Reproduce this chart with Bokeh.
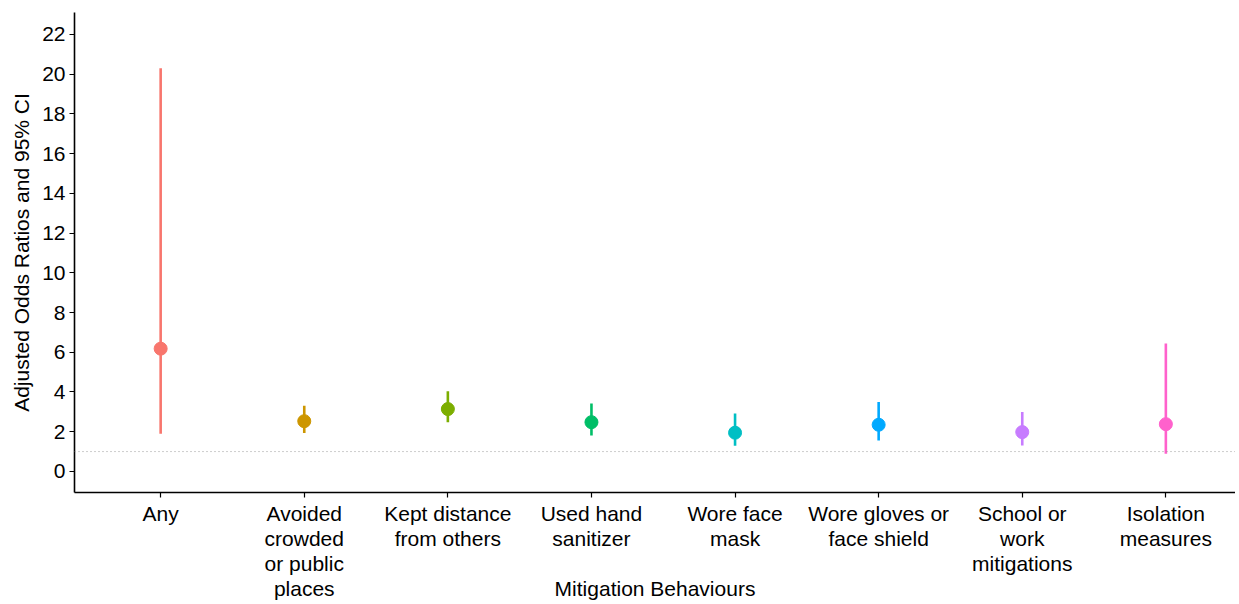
from bokeh.plotting import figure
from bokeh.models import Range1d, FixedTicker, Span, ColumnDataSource
from bokeh.embed import file_html
from bokeh.resources import INLINE

categories = ["Any", "Avoided\ncrowded\nor public\nplaces", "Kept distance\nfrom others",
              "Used hand\nsanitizer", "Wore face\nmask", "Wore gloves or\nface shield",
              "School or\nwork\nmitigations", "Isolation\nmeasures"]
aor = [6.18, 2.53, 3.14, 2.48, 1.95, 2.35, 1.98, 2.38]
ci_low = [1.90, 1.93, 2.47, 1.81, 1.29, 1.56, 1.31, 0.89]
ci_high = [20.29, 3.31, 4.03, 3.42, 2.92, 3.49, 2.99, 6.44]
colors = ["#F8766D", "#CD9600", "#7CAE00", "#00BE67", "#00BFC4", "#00A9FF", "#C77CFF", "#FF61CC"]
y_ticks = list(range(0, 23, 2))
ref_value = 1

xpos = list(range(1, len(categories) + 1))
src = ColumnDataSource(dict(x=xpos, y=aor, lo=ci_low, hi=ci_high, c=colors))

FONT = "Liberation Sans"
FS = "21px"
p = figure(frame_width=1161, frame_height=480, output_backend="svg", toolbar_location=None,
           x_range=Range1d(0.4, 8.485), y_range=Range1d(-1.06, 23.1),
           min_border_left=74, min_border_right=0, min_border_top=12, min_border_bottom=0)
p.outline_line_color = None
p.xgrid.visible = False
p.ygrid.visible = False

p.add_layout(Span(location=ref_value, dimension="width", line_color="#9a9a9a",
                  line_width=1, line_dash="1 3"))
p.segment(x0="x", y0="lo", x1="x", y1="hi", color="c", line_width=2.6, source=src)
p.scatter(x="x", y="y", size=13, fill_color="c", line_color="c", source=src)

for ax in (p.xaxis[0], p.yaxis[0]):
    ax.axis_line_color = "black"
    ax.axis_line_width = 1.6
    ax.major_tick_line_color = "black"
    ax.major_tick_line_width = 1.2
    ax.major_tick_in = 0
    ax.major_tick_out = 5
    ax.minor_tick_line_color = None
    ax.major_label_text_font = FONT
    ax.major_label_text_font_size = FS
    ax.major_label_text_color = "black"
    ax.axis_label_text_font = FONT
    ax.axis_label_text_font_size = FS
    ax.axis_label_text_font_style = "normal"
    ax.axis_label_text_color = "black"

p.yaxis.ticker = FixedTicker(ticks=y_ticks)
p.yaxis.axis_label = "Adjusted Odds Ratios and 95% CI"
p.yaxis.major_label_standoff = 4
p.yaxis.axis_label_standoff = 6

p.xaxis.ticker = FixedTicker(ticks=xpos)
p.xaxis.major_label_overrides = {x: c for x, c in zip(xpos, categories)}
p.xaxis.major_label_text_line_height = 1.1
p.xaxis.major_label_standoff = 4
p.xaxis.axis_label = "Mitigation Behaviours"
p.xaxis.axis_label_standoff = -26

open("out.html", "w").write(file_html(p, INLINE))
